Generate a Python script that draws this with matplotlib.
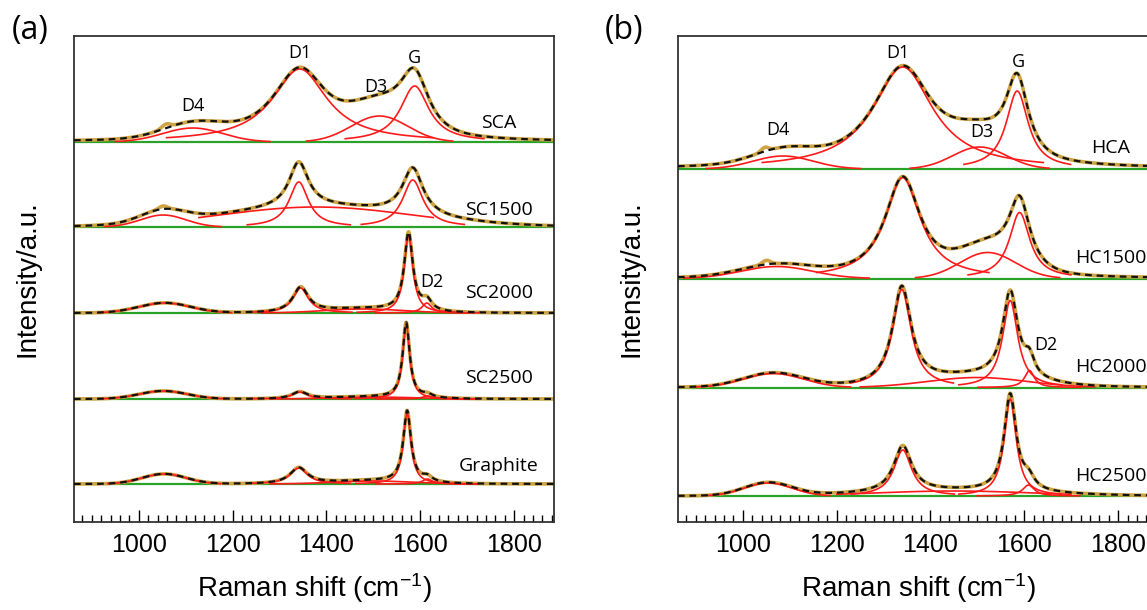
import numpy as np
import matplotlib
matplotlib.use("Agg")
import matplotlib.pyplot as plt
from matplotlib.ticker import MultipleLocator

plt.rcParams['font.family'] = ['Liberation Sans', 'DejaVu Sans']
plt.rcParams['mathtext.fontset'] = 'custom'
plt.rcParams['mathtext.rm'] = 'Liberation Sans'
plt.rcParams['mathtext.it'] = 'Liberation Sans'

# peak fits: (shape, centre cm-1, height, FWHM)
# L = Lorentzian, G = Gaussian; heights in arbitrary units
sca = [("G", 1115, 14, 150), ("L", 1343, 73, 142), ("G", 1513, 26, 142), ("L", 1588, 56, 74)]
sc1500 = [("G", 1052, 12, 113), ("L", 1341, 45, 50), ("G", 1378, 20, 480), ("L", 1584, 47, 53)]
sc2000 = [("G", 1055, 10, 130), ("L", 1345, 25, 40), ("G", 1480, 4, 200), ("L", 1575, 78, 22), ("L", 1614, 10, 25)]
sc2500 = [("G", 1052, 8, 120), ("L", 1343, 7, 40), ("G", 1500, 2, 200), ("L", 1570, 75, 18), ("L", 1615, 3, 25)]
graphite = [("G", 1054, 10, 110), ("L", 1341, 16, 45), ("G", 1500, 3, 200), ("L", 1572, 71, 20), ("L", 1615, 5, 25)]

hca = [("G", 1086, 13, 150), ("L", 1341, 102, 156), ("G", 1505, 22, 135), ("L", 1585, 78, 57)]
hc1500 = [("G", 1072, 12, 180), ("L", 1341, 101, 92), ("G", 1522, 26, 140), ("L", 1590, 66, 53)]
hc2000 = [("G", 1065, 14, 150), ("L", 1339, 98, 48), ("G", 1500, 10, 250), ("L", 1570, 87, 39), ("L", 1611, 17, 25)]
hc2500 = [("G", 1054, 13, 120), ("L", 1341, 46, 46), ("G", 1450, 5, 400), ("L", 1570, 97, 31), ("L", 1609, 11, 30)]

# small mismatch of the measured spectrum vs. the fit (centre, height, width)
sca_raw = [(1058, 4, 22)]
sc1500_raw = [(1052, 3, 20)]
hca_raw = [(1047, 4, 18)]
hc1500_raw = [(1050, 4, 20)]

left_names = ["SCA", "SC1500", "SC2000", "SC2500", "Graphite"]
left_fits = [sca, sc1500, sc2000, sc2500, graphite]
left_raw = [sca_raw, sc1500_raw, [], [], []]
left_offsets = [380, 295, 209, 123, 38]

right_names = ["HCA", "HC1500", "HC2000", "HC2500"]
right_fits = [hca, hc1500, hc2000, hc2500]
right_raw = [hca_raw, hc1500_raw, [], []]
right_offsets = [353, 243.5, 134.5, 26]

XMIN, XMAX = 862, 1885
x = np.linspace(XMIN, XMAX, 1500)

GOLD = "#cfa445"
RED = "#ff1a1a"
GREEN = "#2aa22a"


def peak(xx, shape, c, h, w):
    if shape == "L":
        return h / (1 + ((xx - c) / (w / 2)) ** 2)
    s = w / 2.3548
    return h * np.exp(-0.5 * ((xx - c) / s) ** 2)


def draw_panel(ax, names, fits, raws, offsets):
    for name, comps, raw, off in zip(names, fits, raws, offsets):
        total = np.zeros_like(x)
        for shape, c, h, w in comps:
            total += peak(x, shape, c, h, w)
        meas = total.copy()
        for c, h, w in raw:
            meas += peak(x, "G", c, h, w)
        ax.plot([XMIN, XMAX], [off, off], color=GREEN, lw=1.6, zorder=1)
        ax.plot(x, meas + off, color=GOLD, lw=2.6, zorder=2)
        for shape, c, h, w in comps:
            half = min(max(2 * w, 110), 300) if shape == "L" else min(1.1 * w, 250)
            m = (x > c - half) & (x < c + half)
            ax.plot(x[m], peak(x[m], shape, c, h, w) + off, color=RED, lw=1.2, zorder=3)
        ax.plot(x, total + off, color="#111111", lw=1.6, ls=(0, (3, 2.2)), zorder=4)
    ax.set_xlim(XMIN, XMAX)
    ax.set_ylim(0, 486)
    ax.set_yticks([])
    ax.xaxis.set_major_locator(MultipleLocator(200))
    ax.xaxis.set_minor_locator(MultipleLocator(20))
    ax.tick_params(axis='x', which='major', direction='in', length=9, width=1, labelsize=18, pad=8)
    ax.tick_params(axis='x', which='minor', direction='in', length=5, width=1)
    for sp in ax.spines.values():
        sp.set_color("#333333")
        sp.set_linewidth(1.3)
    ax.set_xlabel("Raman shift (cm$^{-1}$)", fontsize=20, labelpad=10)
    ax.set_ylabel("Intensity/a.u.", fontsize=20, labelpad=24)


fig = plt.figure(figsize=(11.47, 6.10), dpi=100)
ax1 = fig.add_axes([74 / 1147, 88 / 610, 480 / 1147, 486 / 610])
ax2 = fig.add_axes([678 / 1147, 88 / 610, 480 / 1147, 486 / 610])

draw_panel(ax1, left_names, left_fits, left_raw, left_offsets)
draw_panel(ax2, right_names, right_fits, right_raw, right_offsets)

lab = dict(family=['Open Sans', 'DejaVu Sans'], ha='center', va='center')
# peak labels, left panel
ax1.text(1115, 416, "D4", fontsize=13, **lab)
ax1.text(1343, 469, "D1", fontsize=13, **lab)
ax1.text(1505, 435, "D3", fontsize=13, **lab)
ax1.text(1588, 464, "G", fontsize=13, **lab)
ax1.text(1625, 240, "D2", fontsize=13, **lab)
# sample labels, left panel
ax1.text(1768, 399, "SCA", fontsize=14, **lab)
ax1.text(1768, 312, "SC1500", fontsize=14, **lab)
ax1.text(1768, 229, "SC2000", fontsize=14, **lab)
ax1.text(1768, 144, "SC2500", fontsize=14, **lab)
ax1.text(1768, 56, "Graphite", fontsize=14, **lab)

# peak labels, right panel
ax2.text(1075, 392, "D4", fontsize=13, **lab)
ax2.text(1331, 469, "D1", fontsize=13, **lab)
ax2.text(1510, 390, "D3", fontsize=13, **lab)
ax2.text(1587, 460, "G", fontsize=13, **lab)
ax2.text(1647, 177, "D2", fontsize=13, **lab)
# sample labels, right panel
ax2.text(1785, 374, "HCA", fontsize=14, **lab)
ax2.text(1785, 264, "HC1500", fontsize=14, **lab)
ax2.text(1785, 155, "HC2000", fontsize=14, **lab)
ax2.text(1785, 46, "HC2500", fontsize=14, **lab)

fig.text(30 / 1147, 1 - 31 / 610, "(a)", fontsize=23, family=['Open Sans', 'DejaVu Sans'], ha='center', va='center')
fig.text(624 / 1147, 1 - 31 / 610, "(b)", fontsize=23, family=['Open Sans', 'DejaVu Sans'], ha='center', va='center')

fig.savefig("out.png", dpi=100)
